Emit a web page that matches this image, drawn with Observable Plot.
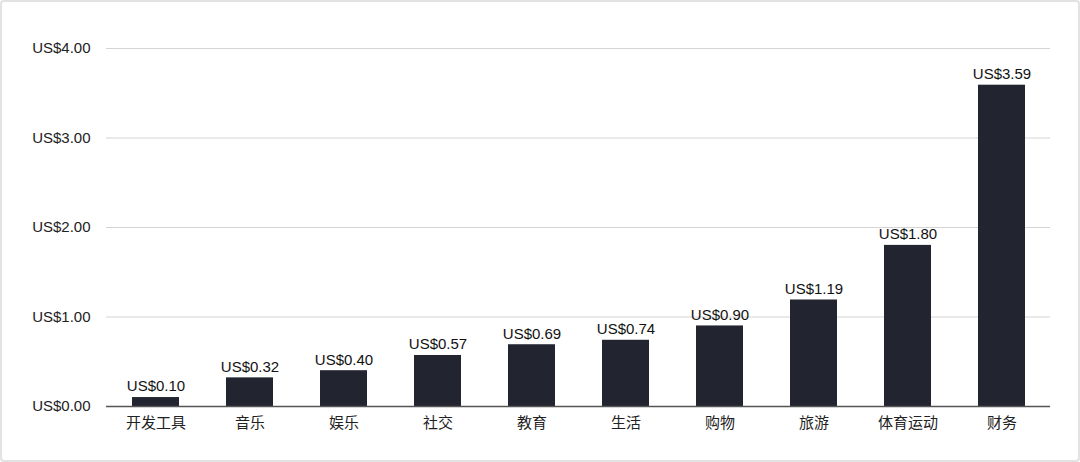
<!DOCTYPE html>
<html><head><meta charset="utf-8">
<script src="https://cdn.jsdelivr.net/npm/d3@7"></script>
<script src="https://cdn.jsdelivr.net/npm/@observablehq/plot@0.6"></script>
<style>
html,body{margin:0;padding:0;background:#fff;}
#wrap{position:relative;width:1080px;height:462px;}
#frame{position:absolute;left:0;top:0;width:1080px;height:462px;box-sizing:border-box;border:2px solid #e2e2e2;border-radius:4px;pointer-events:none;}
</style></head>
<body><div id="wrap"><div id="frame"></div></div>
<script>
const categories = ["开发工具","音乐","娱乐","社交","教育","生活","购物","旅游","体育运动","财务"];
const values = [0.10,0.32,0.40,0.57,0.69,0.74,0.90,1.19,1.80,3.59];
const yTicks = [0,1,2,3,4];

const data = categories.map((c,i)=>({category:c, value:values[i]}));
const fmt = v => "US$" + v.toFixed(2);

const chart = Plot.plot({
  width:1080, height:462,
  marginLeft:106, marginRight:30, marginTop:48, marginBottom:56,
  style:{fontFamily:'"Liberation Sans","Noto Sans CJK SC",sans-serif', fontSize:"15px", color:"#222", background:"transparent"},
  x:{domain:categories, paddingInner:0.5, paddingOuter:0.25, label:null},
  y:{domain:[0,4], label:null},
  marks:[
    Plot.gridY(yTicks, {stroke:"#d4d4d4", strokeOpacity:1, strokeWidth:1}),
    Plot.axisY(yTicks, {tickSize:0, tickPadding:16, tickFormat:fmt, fontSize:15, fill:"#222"}),
    Plot.axisX({tickSize:0, tickPadding:11, fontSize:15, fill:"#222"}),
    Plot.barY(data, {x:"category", y:"value", fill:"#22242f"}),
    Plot.ruleY([0], {stroke:"#555", strokeWidth:1.5}),
    Plot.text(data, {x:"category", y:"value", text:d=>fmt(d.value), dy:-11, fontSize:15, fill:"#111"})
  ]
});
document.getElementById("wrap").prepend(chart);
</script>
</body></html>
